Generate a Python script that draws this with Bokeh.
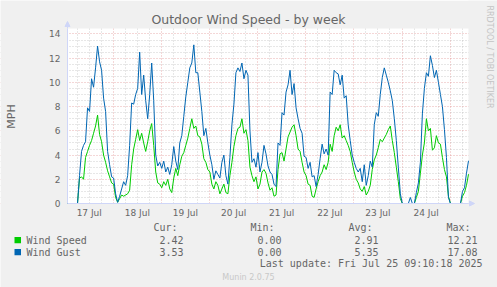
import math
import numpy as np
import pandas as pd
from bokeh.plotting import figure
from bokeh.models import (Range1d, FixedTicker, Label, BoxAnnotation, Arrow, NormalHead)
from bokeh.embed import file_html
from bokeh.resources import INLINE

period_start = "2025-07-17 01:10"
period_end = "2025-07-25 09:10"

wind_speed = [
    0, 0, 0, 0, 0, 0, 2.1, 2.2, 2.0, 3.8, 4.3, 4.8, 5.2, 5.8, 6.4, 7.3, 5.7, 5.1, 4.0, 3.4,
    2.7, 2.2, 1.7, 1.6, 0.5, 0.1, 0.4, 0.7, 0.6, 0.7, 0.8, 1.1, 3.2, 4.5, 5.3, 6.1, 5.2, 5.8, 5.0, 4.3,
    5.1, 6.0, 6.6, 4.8, 2.6, 1.7, 1.6, 1.3, 1.8, 1.5, 2.0, 1.2, 0.9, 2.1, 2.9, 2.3, 3.2, 3.9, 4.2, 4.8,
    5.4, 6.2, 7.0, 6.2, 6.4, 5.6, 5.5, 4.9, 3.7, 3.4, 2.8, 2.6, 1.6, 1.2, 1.8, 1.5, 0.8, 1.2, 1.6, 0.9,
    0.8, 2.3, 3.4, 4.7, 5.6, 6.2, 6.3, 7.0, 5.8, 6.1, 5.2, 3.0, 2.3, 1.8, 2.2, 1.2, 1.6, 2.6, 2.8, 2.5,
    1.7, 1.1, 1.3, 0.6, 0.7, 2.8, 4.1, 4.2, 3.5, 4.5, 5.5, 5.9, 6.3, 6.5, 5.6, 4.5, 4.3, 3.4, 2.6, 2.3,
    1.6, 1.5, 0.6, 0.5, 1.2, 1.8, 2.3, 2.6, 3.2, 2.8, 3.4, 4.9, 4.3, 5.6, 6.3, 6.0, 6.5, 5.4, 5.6, 5.2,
    4.8, 4.3, 3.4, 2.6, 2.0, 1.7, 1.2, 1.0, 1.4, 0.7, 1.0, 1.5, 2.8, 3.6, 4.0, 4.6, 5.3, 5.1, 5.4, 5.7,
    6.1, 6.4, 5.2, 4.2, 3.0, 1.8, 0.4, 0, 0, 0, 0, 0, 0, 0, 0.5, 1.0, 2.5, 4.0, 5.0, 7.0,
    6.0, 6.2, 4.4, 4.6, 5.6, 5.0, 4.9, 3.8, 2.8, 2.2, 0.6, 0, 0, 0, 0, 0, 0, 0.6, 0.9, 1.5,
    2.42,
]

wind_gust = [
    0, 0, 0, 0, 0, 0, 2.3, 4.3, 4.8, 5.1, 7.9, 7.6, 10.3, 9.6, 11.2, 13.0, 11.7, 11.0, 8.7, 7.6,
    4.3, 3.2, 2.2, 2.1, 0.8, 0.1, 0.6, 1.2, 1.8, 1.5, 2.3, 4.8, 8.3, 8.2, 9.0, 9.5, 12.5, 9.0, 10.6, 8.5,
    7.0, 9.0, 11.6, 8.5, 4.0, 3.1, 3.4, 2.9, 3.5, 2.6, 3.0, 2.4, 3.2, 4.7, 3.5, 2.8, 5.0, 5.6, 7.2, 8.8,
    10.0, 11.2, 11.6, 13.1, 10.8, 10.8, 9.2, 7.6, 5.6, 6.2, 5.0, 4.0, 3.2, 2.0, 2.7, 2.4, 2.1, 3.4, 4.0, 2.3,
    1.6, 3.8, 6.5, 8.2, 10.8, 11.2, 10.9, 11.6, 10.3, 11.0, 10.6, 6.0, 3.4, 3.7, 3.0, 4.2, 2.6, 3.4, 4.8, 4.1,
    3.1, 2.6, 2.4, 1.6, 1.4, 5.0, 4.8, 7.5, 7.3, 9.2, 9.8, 11.0, 9.0, 9.9, 7.9, 7.0, 6.2, 5.8, 3.9, 3.8,
    2.9, 3.4, 2.2, 2.3, 1.4, 2.4, 3.7, 4.9, 4.1, 4.5, 4.0, 9.2, 9.0, 11.0, 10.8, 10.7, 9.8, 10.6, 8.7, 8.9,
    6.5, 5.2, 4.0, 3.4, 2.9, 2.6, 2.9, 1.8, 3.2, 1.5, 2.3, 3.5, 3.0, 6.5, 7.5, 7.2, 9.0, 10.4, 11.2, 10.6,
    10.0, 9.3, 8.5, 7.0, 5.2, 3.0, 0.8, 0, 0, 0, 0, 0.5, 0, 0, 0.9, 1.7, 3.4, 7.4, 9.5, 10.8,
    10.5, 12.2, 11.4, 10.4, 11.0, 10.0, 9.0, 8.0, 6.1, 3.8, 0.5, 0, 0, 0, 0, 0, 0, 1.0, 1.3, 2.5,
    3.53,
]

day_ticks = ["2025-07-17 12:00", "2025-07-18 12:00", "2025-07-19 12:00", "2025-07-20 12:00",
             "2025-07-21 12:00", "2025-07-22 12:00", "2025-07-23 12:00", "2025-07-24 12:00"]
day_labels = ["17 Jul", "18 Jul", "19 Jul", "20 Jul", "21 Jul", "22 Jul", "23 Jul", "24 Jul"]
y_major = [0, 2, 4, 6, 8, 10, 12, 14]
y_top = 14.45

series_names = ["Wind Speed", "Wind Gust"]
series_colors = ["#00CC00", "#0066B3"]
cur_vals = ["2.42", "3.53"]
min_vals = ["0.00", "0.00"]
avg_vals = ["2.91", "5.35"]
max_vals = ["12.21", "17.08"]
stat_heads = ["Cur:", "Min:", "Avg:", "Max:"]
title_text = "Outdoor Wind Speed - by week"
unit_label = "MPH"
last_update = "Last update: Fri Jul 25 09:10:18 2025"
footer = "Munin 2.0.75"
watermark = "RRDTOOL / TOBI OETIKER"

# ---------------- geometry (canvas pixels) ----------------
W, H = 497, 287
FL, FR, FT, FB = 67, 468, 28, 203   # white plotting area
AXIS_COL = "#CFD6F8"
FONT_COL = "#666666"
BACK = "#F0F0F0"

def ms(ts):
    return pd.Timestamp(ts).value / 1e6

t0_ms, t1_ms = ms(period_start), ms(period_end)
ms_per_px = (t1_ms - t0_ms) / (FR - FL)
px_per_unit = (FB - FT) / y_top

def X(px):   # canvas x pixel -> data x
    return t0_ms + (px - FL) * ms_per_px

def Y(py):   # canvas y pixel -> data y
    return (FB - py) / px_per_unit

times = pd.date_range(period_start, period_end, freq="h")

p = figure(width=W, height=H, x_axis_type="datetime", output_backend="svg",
           toolbar_location=None, title=None,
           x_range=Range1d(X(0), X(W)), y_range=Range1d(Y(H), Y(0)),
           min_border_left=0, min_border_right=0, min_border_top=0, min_border_bottom=0,
           background_fill_color="#FFFFFF", border_fill_color=BACK,
           outline_line_color=None)

noon_ms = [ms(t) for t in day_ticks]
mid_ms = [ms(t) for t in pd.date_range("2025-07-18 00:00", "2025-07-25 00:00", freq="D")]
six_ms = [ms(t) for t in pd.date_range("2025-07-17 06:00", "2025-07-25 06:00", freq="6h")]
six_ms = [v for v in six_ms if v not in mid_ms]

xa, ya = p.xaxis[0], p.yaxis[0]
xa.ticker = FixedTicker(ticks=noon_ms)
xa.major_label_overrides = {k: v for k, v in zip(noon_ms, day_labels)}
xa.fixed_location = 0
xa.bounds = (t0_ms, t1_ms)
ya.ticker = FixedTicker(ticks=y_major,
                        minor_ticks=[float(v) for v in np.arange(0, 14.5, 0.5) if v not in y_major])
ya.fixed_location = t0_ms
ya.bounds = (0, y_top)
for ax in (xa, ya):
    ax.axis_line_color = AXIS_COL
    ax.major_tick_line_color = None
    ax.minor_tick_line_color = None
    ax.major_tick_out = 0
    ax.minor_tick_out = 0
    ax.major_label_text_font = "DejaVu Sans"
    ax.major_label_text_font_size = "9px"
    ax.major_label_text_color = FONT_COL
xa.major_label_standoff = 4
ya.major_label_standoff = 7

p.xgrid.ticker = FixedTicker(ticks=mid_ms, minor_ticks=six_ms)
for g in (p.xgrid[0], p.ygrid[0]):
    g.grid_line_color = "#D97A7A"
    g.grid_line_alpha = 0.6
    g.grid_line_dash = "1 2"
    g.minor_grid_line_color = "#A0A0A0"
    g.minor_grid_line_alpha = 0.5
    g.minor_grid_line_dash = "1 2"

# grey surround (covers grid lines outside the plotting area)
for kw in (dict(right=t0_ms), dict(left=t1_ms), dict(top=0), dict(bottom=y_top)):
    p.add_layout(BoxAnnotation(fill_color=BACK, fill_alpha=1, line_color=None,
                               level="underlay", **kw))

p.line(times, wind_speed, line_color=series_colors[0], line_width=1)
p.line(times, wind_gust, line_color=series_colors[1], line_width=1)

# axis arrows
p.add_layout(Arrow(x_start=t0_ms, y_start=y_top, x_end=t0_ms, y_end=Y(21),
                   line_color=AXIS_COL, line_width=1,
                   end=NormalHead(size=5, fill_color=AXIS_COL, line_color=AXIS_COL)))
p.add_layout(Arrow(x_start=t1_ms, y_start=0, x_end=X(474), y_end=0,
                   line_color=AXIS_COL, line_width=1,
                   end=NormalHead(size=5, fill_color=AXIS_COL, line_color=AXIS_COL)))

def lab(text, x, y, align="left", size="10px", font="DejaVu Sans Mono", color=FONT_COL,
        angle=0.0):
    p.add_layout(Label(x=X(x), y=Y(y), text=text, text_align=align, text_baseline="middle",
                       text_font=font, text_font_size=size, text_color=color, angle=angle))

lab(title_text, 248, 18.5, align="center", size="12.5px", font="DejaVu Sans")
lab(unit_label, 11, 116, align="center", size="11px", font="DejaVu Sans", angle=math.pi / 2)
lab(watermark, 489, 5, align="left", size="8px", font="DejaVu Sans", color="#C4C4C4",
    angle=-math.pi / 2)

head_right = [177, 274, 372, 470]
val_right = [183, 281, 378, 477]
for h, xr in zip(stat_heads, head_right):
    lab(h, xr, 227, align="right")
for i, name in enumerate(series_names):
    yy = 239.5 + 12 * i
    p.add_layout(BoxAnnotation(left=X(14), right=X(20.5), top=Y(yy - 3), bottom=Y(yy + 3.2),
                               fill_color=series_colors[i], fill_alpha=1, line_color=None))
    lab(name, 26, yy, align="left")
    for v, xr in zip((cur_vals[i], min_vals[i], avg_vals[i], max_vals[i]), val_right):
        lab(v, xr, yy, align="right")
lab(last_update, 482, 263, align="right")
lab(footer, 248, 276.5, align="center", size="8px", font="DejaVu Sans", color="#C8C8C8")

open("out.html", "w").write(file_html(p, INLINE))
